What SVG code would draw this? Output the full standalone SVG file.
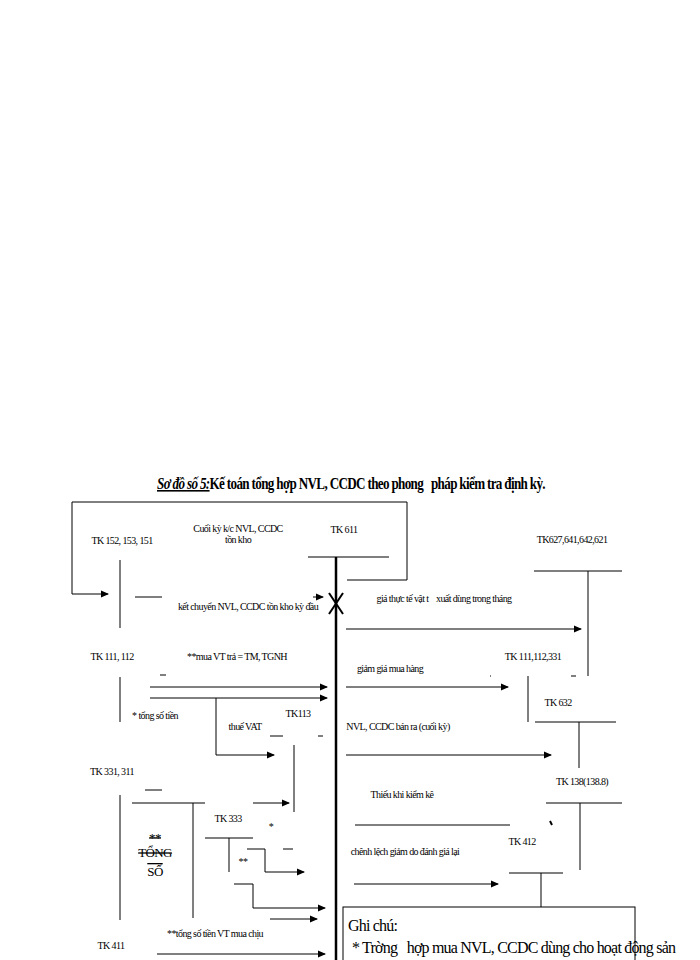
<svg xmlns="http://www.w3.org/2000/svg" width="700" height="960" viewBox="0 0 700 960">
<defs>
<marker id="a" markerWidth="8" markerHeight="8" refX="7" refY="4" orient="auto" markerUnits="userSpaceOnUse"><path d="M0,0.5 L8,4 L0,7.5 z" fill="#000"/></marker>
<style>
text{font-family:"Liberation Serif",serif;font-size:10px;fill:#000;letter-spacing:-0.6px;white-space:pre}
line,polyline{stroke:#000;stroke-width:1;fill:none}
.ar{marker-end:url(#a)}
.t{stroke-width:1.2}
</style>
</defs>
<rect width="700" height="960" fill="#fff"/>
<text x="157" y="489" textLength="388" lengthAdjust="spacingAndGlyphs" style="font-size:16px;font-weight:bold;letter-spacing:-0.8px"><tspan font-style="italic" text-decoration="underline">Sơ đồ số 5:</tspan>Kế toán tổng hợp NVL, CCDC theo phong   pháp kiểm tra định kỳ.</text>
<g id="connectors">
<polyline points="72,502 407,502 407,580 347,580"/>
<polyline class="ar" points="72,502 72,594 108,594"/>
<line x1="135" y1="597" x2="162" y2="597"/>
<line class="ar" x1="313" y1="597" x2="323" y2="597"/>
<line x1="336" y1="557" x2="336" y2="960" style="stroke-width:2.5"/>
<line x1="329" y1="593" x2="343" y2="614" style="stroke-width:2"/>
<line x1="343" y1="593" x2="329" y2="614" style="stroke-width:2"/>
<line class="ar" x1="346" y1="629" x2="581" y2="629"/>
<line class="ar" x1="150" y1="687" x2="327" y2="687"/>
<line class="ar" x1="150" y1="698" x2="327" y2="698"/>
<polyline class="ar" points="216,698 216,755 274,755"/>
<line class="ar" x1="346" y1="687" x2="508" y2="687"/>
<line class="ar" x1="346" y1="755" x2="551" y2="755"/>
<line class="ar" x1="253" y1="803" x2="289" y2="803"/>
<line x1="355" y1="825" x2="510" y2="825"/>
<line x1="550" y1="821" x2="552" y2="825" style="stroke-width:2"/>
<polyline class="ar" points="247,849 265,849 265,872 304,872"/>
<line class="ar" x1="354" y1="884" x2="498" y2="884"/>
<polyline class="ar" points="234,884 253,884 253,908 325,908"/>
<line class="ar" x1="270" y1="919" x2="317" y2="919"/>
<line class="ar" x1="157" y1="954" x2="325" y2="954"/>
</g>
<g id="tk152"><text x="122" y="544" text-anchor="middle">TK 152, 153, 151</text><line x1="120" y1="560" x2="120" y2="628"/></g>
<g id="lbl1"><text x="238" y="532" text-anchor="middle">Cuối kỳ k/c NVL, CCDC</text><text x="238" y="543" text-anchor="middle">tồn kho</text><text x="248" y="610" text-anchor="middle">kết chuyển NVL, CCDC tồn kho kỳ đầu</text></g>
<g id="tk611"><text x="344" y="533" text-anchor="middle">TK 611</text><line class="t" x1="308" y1="557" x2="389" y2="557"/></g>
<g id="tk627"><text x="572" y="543" text-anchor="middle">TK627,641,642,621</text><line class="t" x1="534" y1="571" x2="622" y2="571"/><line x1="588" y1="571" x2="588" y2="676"/><text x="444" y="602" text-anchor="middle">giá thực tế vật t    xuất dùng trong tháng</text></g>
<g id="tk111"><text x="112" y="660" text-anchor="middle">TK 111, 112</text><text x="237" y="660" text-anchor="middle">**mua VT trả = TM, TGNH</text><line x1="160" y1="675" x2="166" y2="675"/><line x1="120" y1="677" x2="120" y2="722"/><text x="155" y="719" text-anchor="middle">* tổng số tiền</text><text x="245" y="730" text-anchor="middle">thuế VAT</text></g>
<g id="tk113"><text x="298" y="717" text-anchor="middle">TK113</text><line x1="270" y1="736" x2="283" y2="736"/><line x1="318" y1="736" x2="323" y2="736"/><line x1="294" y1="745" x2="294" y2="812"/></g>
<g id="tk111b"><text x="390" y="672" text-anchor="middle">giảm giá mua hàng</text><text x="533" y="660" text-anchor="middle">TK 111,112,331</text><line x1="528" y1="676" x2="528" y2="722"/><line x1="571" y1="676" x2="576" y2="676"/><line x1="490" y1="676" x2="491" y2="676"/></g>
<g id="tk632"><text x="558" y="706" text-anchor="middle">TK 632</text><line class="t" x1="535" y1="722" x2="616" y2="722"/><line x1="579" y1="722" x2="579" y2="768"/><text x="398" y="730" text-anchor="middle">NVL, CCDC bán ra (cuối kỳ)</text></g>
<g id="tk331"><text x="112" y="775" text-anchor="middle">TK 331, 311</text><line x1="145" y1="790" x2="162" y2="790"/><line x1="120" y1="795" x2="120" y2="920"/><line class="t" x1="132" y1="803" x2="205" y2="803"/><line x1="193" y1="803" x2="193" y2="918"/>
<text x="155" y="842" text-anchor="middle" style="font-size:13px" text-decoration="line-through">**</text><text x="155" y="857" text-anchor="middle" style="font-size:13px" text-decoration="line-through">TỔNG</text><text x="155" y="876" text-anchor="middle" style="font-size:13px" text-decoration="overline">SỐ</text></g>
<g id="tk138"><text x="582" y="785" text-anchor="middle">TK 138(138.8)</text><line class="t" x1="546" y1="803" x2="622" y2="803"/><line x1="580" y1="803" x2="580" y2="870"/><text x="402" y="798" text-anchor="middle">Thiếu khi kiểm kê</text></g>
<g id="tk333"><text x="228" y="822" text-anchor="middle">TK 333</text><text x="271" y="830" text-anchor="middle">*</text><line class="t" x1="205" y1="838" x2="253" y2="838"/><line x1="229" y1="838" x2="229" y2="872"/><line x1="283" y1="849" x2="293" y2="849"/><text x="243" y="865" text-anchor="middle">**</text></g>
<g id="tk412"><text x="405" y="855" text-anchor="middle">chênh lệch giảm do đánh giá lại</text><text x="522" y="845" text-anchor="middle">TK 412</text><line class="t" x1="509" y1="873" x2="563" y2="873"/><line x1="541" y1="873" x2="541" y2="908"/></g>
<g id="tk411"><text x="215" y="937" text-anchor="middle">**tổng số tiền VT mua chịu</text><text x="111" y="949" text-anchor="middle">TK 411</text></g>
<g id="note"><rect x="343" y="907" width="292" height="60" fill="#fff" stroke="#000"/><text x="348" y="931" style="font-size:16px;letter-spacing:-0.8px">Ghi chú:</text><text x="352" y="953" style="font-size:16px;letter-spacing:-0.8px">* Trờng   hợp mua NVL, CCDC dùng cho hoạt động sản</text></g>
</svg>
